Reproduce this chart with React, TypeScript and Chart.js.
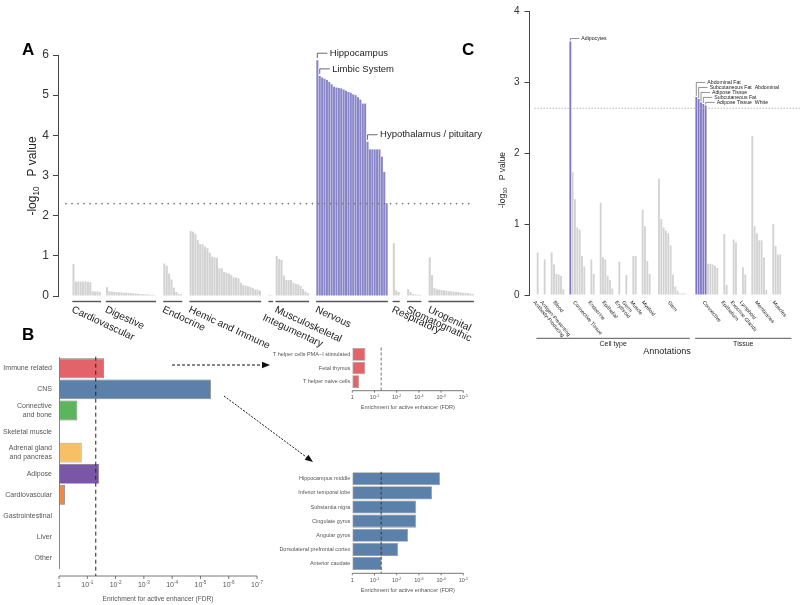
import React, { useEffect, useRef } from 'react';
import { Chart, registerables } from 'chart.js';
Chart.register(...registerables);

const W = 800;
const H = 605;
const FONT = '"Liberation Sans", Arial, Helvetica, sans-serif';
const f = (px: number, w = 'normal') => `${w} ${px}px ${FONT}`;

// ---------------- Panel A data (-log10 P value per annotation) ----------------
const A_GROUPS = ['Cardiovascular', 'Digestive', 'Endocrine', 'Hemic and Immune', 'Integumentary', 'Musculoskeletal', 'Nervous', 'Respiratory', 'Stomatognathic', 'Urogenital'];
const A_CARDIOVASCULAR = [0.8, 0.36, 0.36, 0.36, 0.36, 0.36, 0.35, 0.34, 0.12, 0.11, 0.11, 0.1];
const A_DIGESTIVE = [0.22, 0.12, 0.11, 0.1, 0.1, 0.09, 0.09, 0.08, 0.08, 0.08, 0.07, 0.07, 0.06, 0.06, 0.05, 0.05, 0.04, 0.04, 0.03, 0.03, 0.02];
const A_ENDOCRINE = [0.81, 0.75, 0.56, 0.41, 0.21, 0.1, 0.05, 0.04];
const A_HEMIC_IMMUNE = [1.62, 1.6, 1.55, 1.39, 1.29, 1.29, 1.23, 1.19, 1.08, 0.98, 0.96, 0.95, 0.69, 0.69, 0.6, 0.58, 0.56, 0.52, 0.46, 0.46, 0.44, 0.33, 0.27, 0.26, 0.24, 0.22, 0.2, 0.16, 0.16, 0.13];
const A_INTEGUMENTARY = [0.03, 0.02];
const A_MUSCULOSKELETAL = [1.0, 0.92, 0.9, 0.51, 0.4, 0.4, 0.4, 0.33, 0.3, 0.29, 0.25, 0.17, 0.11, 0.07];
const A_NERVOUS = [5.87, 5.48, 5.44, 5.41, 5.38, 5.33, 5.27, 5.21, 5.19, 5.18, 5.17, 5.14, 5.11, 5.08, 5.06, 5.02, 5.0, 4.95, 4.89, 4.79, 4.79, 3.84, 3.65, 3.65, 3.65, 3.65, 3.65, 3.47, 3.09, 2.31];
const A_RESPIRATORY = [1.31, 0.14, 0.1];
const A_STOMATOGNATHIC = [0.17, 0.1, 0.05, 0.04, 0.03, 0.03];
const A_UROGENITAL = [0.96, 0.52, 0.2, 0.17, 0.16, 0.15, 0.14, 0.13, 0.12, 0.12, 0.11, 0.1, 0.1, 0.09, 0.08, 0.08, 0.07, 0.06, 0.05];
const A_SERIES = [A_CARDIOVASCULAR, A_DIGESTIVE, A_ENDOCRINE, A_HEMIC_IMMUNE, A_INTEGUMENTARY, A_MUSCULOSKELETAL, A_NERVOUS, A_RESPIRATORY, A_STOMATOGNATHIC, A_UROGENITAL];
const A_THRESHOLD = 2.3;
const A_Y_TICKS = [0, 1, 2, 3, 4, 5, 6];
const A_ANNOTATIONS = [
  { group: 6, bar: 0, text: 'Hippocampus' },
  { group: 6, bar: 1, text: 'Limbic System' },
  { group: 6, bar: 21, text: 'Hypothalamus / pituitary' },
];
// layout (empty slots)
const A_LEAD = 6;
const A_GAPS = [2, 3, 3, 3, 1, 3, 2, 3, 3];

// ---------------- Panel B data (-log10 FDR) ----------------
const B_CATEGORIES = ['Immune related', 'CNS', 'Connective\nand bone', 'Skeletal muscle', 'Adrenal gland\nand pancreas', 'Adipose', 'Cardiovascular', 'Gastrointestinal', 'Liver', 'Other'];
const B_NEG_LOG10_FDR = [1.59, 5.37, 0.65, 0, 0.8, 1.42, 0.21, 0, 0, 0];
const B_COLORS = ['#e2646a', '#5b80a9', '#5cb45c', '#999999', '#f7bf66', '#7b56a6', '#f08a40', '#999999', '#999999', '#999999'];
const B_DECADES = [0, 1, 2, 3, 4, 5, 6, 7];
const FDR_CUTOFF = 1.3; // -log10(0.05)

const I1_LABELS = ['T helper cells PMA\u2212I stimulated', 'Fetal thymus', 'T helper naive cells'];
const I1_NEG_LOG10_FDR = [0.59, 0.58, 0.31];
const I2_LABELS = ['Hippocampus middle', 'Inferior temporal lobe', 'Substantia nigra', 'Cingulate gyrus', 'Angular gyrus', 'Dorsolateral prefrontal cortex', 'Anterior caudate'];
const I2_NEG_LOG10_FDR = [3.95, 3.59, 2.88, 2.88, 2.51, 2.07, 1.32];
const INSET_DECADES = [0, 1, 2, 3, 4, 5];

// ---------------- Panel C data ----------------
const C_CELL_GROUPS = ['Antibody-Producing', 'Antigen-Presenting', 'Blood', 'Connective Tissue', 'Endocrine', 'Epithelial', 'Erythroid', 'Germ', 'Muscle', 'Myeloid', 'Stem'];
const C_TISSUE_GROUPS = ['Connective', 'Epithelium', 'Exocrine Glands', 'Lymphoid', 'Membranes', 'Muscles'];
const C_ANTIBODY_PRODUCING = [0.6];
const C_ANTIGEN_PRESENTING = [0.5];
const C_BLOOD = [0.6, 0.43, 0.3, 0.29, 0.27, 0.08];
const C_CONNECTIVE_TISSUE = [3.57, 1.73, 1.35, 0.95, 0.92, 0.55, 0.4];
const C_ENDOCRINE = [0.5, 0.3];
const C_EPITHELIAL = [1.3, 0.53, 0.5, 0.27, 0.21, 0.09];
const C_ERYTHROID = [0.47];
const C_GERM = [0.28];
const C_MUSCLE = [0.55, 0.55];
const C_MYELOID = [1.2, 0.97, 0.48, 0.3];
const C_STEM = [1.64, 1.07, 0.95, 0.91, 0.87, 0.7, 0.29, 0.12, 0.06, 0.02, 0.02, 0.02];
const C_T_CONNECTIVE = [2.79, 2.76, 2.71, 2.69, 2.67, 0.44, 0.44, 0.43, 0.41, 0.38];
const C_T_EPITHELIUM = [0.86, 0.14];
const C_T_EXOCRINE = [0.78, 0.74];
const C_T_LYMPHOID = [0.39, 0.29];
const C_T_MEMBRANES = [2.24, 0.97, 0.87, 0.77, 0.77, 0.53, 0.07];
const C_T_MUSCLES = [1.0, 0.69, 0.57, 0.57];
const C_SERIES = [C_ANTIBODY_PRODUCING, C_ANTIGEN_PRESENTING, C_BLOOD, C_CONNECTIVE_TISSUE, C_ENDOCRINE, C_EPITHELIAL, C_ERYTHROID, C_GERM, C_MUSCLE, C_MYELOID, C_STEM,
  C_T_CONNECTIVE, C_T_EPITHELIUM, C_T_EXOCRINE, C_T_LYMPHOID, C_T_MEMBRANES, C_T_MUSCLES];
const C_THRESHOLD = 2.63;
const C_Y_TICKS = [0, 1, 2, 3, 4];
const C_ANNOTATIONS = [
  { group: 3, bar: 0, text: 'Adipocytes' },
  { group: 11, bar: 0, text: 'Abdominal Fat' },
  { group: 11, bar: 1, text: 'Subcutaneous Fat  Abdominal' },
  { group: 11, bar: 2, text: 'Adipose Tissue' },
  { group: 11, bar: 3, text: 'Subcutaneous Fat' },
  { group: 11, bar: 4, text: 'Adipose Tissue  White' },
];
const C_LEAD = 3;
const C_GAPS = [2, 2, 2, 2, 2, 2, 2, 2, 2, 3, 4, 2, 2, 2, 2, 2];

const PURPLE = '#8985c9';
const PURPLE_C = '#7c76c4';
const GREY = '#d2d2d2';

function buildSlots(series: number[][], gaps: number[], lead: number) {
  const labels: string[] = [];
  const data: (number | null)[] = [];
  const ranges: [number, number][] = [];
  const push = (v: number | null) => { labels.push(String(labels.length)); data.push(v); };
  for (let i = 0; i < lead; i++) push(null);
  series.forEach((vals, gi) => {
    if (gi > 0) for (let k = 0; k < gaps[gi - 1]; k++) push(null);
    const start = data.length;
    vals.forEach((v) => push(v));
    ranges.push([start, data.length - 1]);
  });
  return { labels, data, ranges };
}

function drawLogPTitle(ctx: CanvasRenderingContext2D, cx: number, cy: number, size: number) {
  ctx.save();
  ctx.translate(cx, cy);
  ctx.rotate(-Math.PI / 2);
  ctx.fillStyle = '#222';
  ctx.textBaseline = 'middle';
  ctx.textAlign = 'left';
  ctx.font = f(size);
  const w1 = ctx.measureText('-log').width;
  ctx.font = f(size * 0.68);
  const w2 = ctx.measureText('10').width;
  ctx.font = f(size);
  const w3 = ctx.measureText('   P value').width;
  const x0 = -(w1 + w2 + w3) / 2;
  ctx.font = f(size);
  ctx.fillText('-log', x0, 0);
  ctx.font = f(size * 0.68);
  ctx.fillText('10', x0 + w1, size * 0.32);
  ctx.font = f(size);
  ctx.fillText('   P value', x0 + w1 + w2, 0);
  ctx.restore();
}

function drawDecadeAxis(ctx: CanvasRenderingContext2D, xs: any, decades: number[], y: number, tick: number, size: number, titleY: number, titleSize: number) {
  const x0 = xs.getPixelForValue(decades[0]);
  const x1 = xs.getPixelForValue(decades[decades.length - 1]);
  ctx.save();
  ctx.strokeStyle = '#555';
  ctx.lineWidth = 0.8;
  ctx.beginPath();
  ctx.moveTo(x0, y);
  ctx.lineTo(x1, y);
  decades.forEach((d) => {
    const x = xs.getPixelForValue(d);
    ctx.moveTo(x, y);
    ctx.lineTo(x, y + tick);
  });
  ctx.stroke();
  ctx.fillStyle = '#555';
  ctx.textBaseline = 'alphabetic';
  ctx.textAlign = 'left';
  const ly = y + tick + 2 + size * 0.85;
  decades.forEach((d) => {
    const x = xs.getPixelForValue(d);
    if (d === 0) {
      ctx.font = f(size);
      const w = ctx.measureText('1').width;
      ctx.fillText('1', x - w / 2, ly);
    } else {
      ctx.font = f(size);
      const wb = ctx.measureText('10').width;
      ctx.font = f(size * 0.65);
      const ws = ctx.measureText('-' + d).width;
      const sx = x - (wb + ws) / 2;
      ctx.font = f(size);
      ctx.fillText('10', sx, ly);
      ctx.font = f(size * 0.65);
      ctx.fillText('-' + d, sx + wb, ly - size * 0.45);
    }
  });
  ctx.font = f(titleSize);
  ctx.textAlign = 'center';
  ctx.textBaseline = 'middle';
  ctx.fillText('Enrichment for active enhancer (FDR)', (x0 + x1) / 2, titleY);
  ctx.restore();
}

function drawArrow(ctx: CanvasRenderingContext2D, x0: number, y0: number, x1: number, y1: number, dash: number[]) {
  const ang = Math.atan2(y1 - y0, x1 - x0);
  const hl = 8;
  const hw = 3.2;
  const c = Math.cos(ang);
  const s = Math.sin(ang);
  const bx = x1 - hl * c;
  const by = y1 - hl * s;
  ctx.save();
  ctx.strokeStyle = '#111';
  ctx.fillStyle = '#111';
  ctx.lineWidth = 1;
  ctx.setLineDash(dash);
  ctx.beginPath();
  ctx.moveTo(x0, y0);
  ctx.lineTo(bx, by);
  ctx.stroke();
  ctx.setLineDash([]);
  ctx.beginPath();
  ctx.moveTo(x1, y1);
  ctx.lineTo(bx + hw * s, by - hw * c);
  ctx.lineTo(bx - hw * s, by + hw * c);
  ctx.closePath();
  ctx.fill();
  ctx.restore();
}

function panelLetter(ctx: CanvasRenderingContext2D, t: string, x: number, y: number) {
  ctx.save();
  ctx.fillStyle = '#000';
  ctx.font = f(17, 'bold');
  ctx.textBaseline = 'alphabetic';
  ctx.textAlign = 'left';
  ctx.fillText(t, x, y);
  ctx.restore();
}

const baseOpts = {
  responsive: false,
  animation: false as const,
  devicePixelRatio: 1,
  events: [] as any[],
  plugins: { legend: { display: false }, tooltip: { enabled: false } },
};

function makeA(canvas: HTMLCanvasElement) {
  const a = buildSlots(A_SERIES, A_GAPS, A_LEAD);
  const plugin = {
    id: 'panelA',
    afterDraw(chart: any) {
      const { ctx, chartArea } = chart;
      const xs = chart.scales.x;
      const ys = chart.scales.y;
      const slot = xs.getPixelForValue(1) - xs.getPixelForValue(0);
      const y0 = ys.getPixelForValue(0);
      ctx.save();
      // threshold
      ctx.setLineDash([0.01, 6]);
      ctx.lineCap = 'round';
      ctx.lineWidth = 1.7;
      ctx.strokeStyle = '#777';
      const ty = ys.getPixelForValue(A_THRESHOLD);
      ctx.beginPath();
      ctx.moveTo(chartArea.left + 8, ty);
      ctx.lineTo(chartArea.right - 3, ty);
      ctx.stroke();
      ctx.setLineDash([]);
      ctx.lineCap = 'butt';
      // group underlines and labels
      a.ranges.forEach(([s0, s1], gi) => {
        const x0 = xs.getPixelForValue(s0) - slot / 2;
        const x1 = xs.getPixelForValue(s1) + slot / 2;
        ctx.strokeStyle = '#555';
        ctx.lineWidth = 1.4;
        ctx.beginPath();
        ctx.moveTo(x0, y0 + 5.5);
        ctx.lineTo(x1, y0 + 5.5);
        ctx.stroke();
        const shift = A_GROUPS[gi] === 'Integumentary' ? [-5, 8] : [0, 0];
        ctx.save();
        ctx.translate(x0 + 2 + shift[0], y0 + 8.5 + shift[1]);
        ctx.rotate((25 * Math.PI) / 180);
        ctx.fillStyle = '#222';
        ctx.font = f(10.2);
        ctx.textBaseline = 'top';
        ctx.textAlign = 'left';
        ctx.fillText(A_GROUPS[gi], 0, 0);
        ctx.restore();
      });
      // annotations
      const meta = chart.getDatasetMeta(0);
      A_ANNOTATIONS.forEach((an) => {
        const idx = a.ranges[an.group][0] + an.bar;
        const el = meta.data[idx];
        const bx = el.x;
        const top = el.y;
        const ly = top - 7;
        ctx.strokeStyle = '#444';
        ctx.lineWidth = 0.8;
        ctx.beginPath();
        ctx.moveTo(bx, top - 2);
        ctx.lineTo(bx, ly);
        ctx.lineTo(bx + 10, ly);
        ctx.stroke();
        ctx.fillStyle = '#222';
        ctx.font = f(9.5);
        ctx.textBaseline = 'middle';
        ctx.textAlign = 'left';
        ctx.fillText(an.text, bx + 12.5, ly);
      });
      ctx.restore();
      drawLogPTitle(ctx, 33, 176, 12);
      panelLetter(ctx, 'A', 22, 55);
    },
  };
  return new Chart(canvas, {
    type: 'bar',
    data: {
      labels: a.labels,
      datasets: [{
        data: a.data,
        backgroundColor: a.data.map((v) => (v != null && v > A_THRESHOLD ? PURPLE : GREY)),
        barPercentage: 0.86,
        categoryPercentage: 1,
        borderWidth: 0,
      }],
    },
    options: {
      ...baseOpts,
      layout: { padding: { left: 0, top: 55, right: W - 473.9, bottom: H - 296 } },
      scales: {
        x: { display: false },
        y: {
          min: 0,
          max: 6,
          afterBuildTicks: (s: any) => { s.ticks = A_Y_TICKS.map((v) => ({ value: v })); },
          afterFit: (s: any) => { s.width = 58; },
          ticks: { font: { family: FONT, size: 12 }, color: '#333', padding: 4 },
          grid: { drawOnChartArea: false, tickLength: 5, color: '#444' },
          border: { color: '#444', width: 1 },
        },
      },
    } as any,
    plugins: [plugin],
  });
}

function makeC(canvas: HTMLCanvasElement) {
  const c = buildSlots(C_SERIES, C_GAPS, C_LEAD);
  const nCell = C_CELL_GROUPS.length;
  const groupNames = [...C_CELL_GROUPS, ...C_TISSUE_GROUPS];
  const plugin = {
    id: 'panelC',
    afterDraw(chart: any) {
      const { ctx, chartArea } = chart;
      const xs = chart.scales.x;
      const ys = chart.scales.y;
      const slot = xs.getPixelForValue(1) - xs.getPixelForValue(0);
      const y0 = ys.getPixelForValue(0);
      ctx.save();
      // threshold
      ctx.setLineDash([1.4, 1.6]);
      ctx.strokeStyle = '#b5b5b5';
      ctx.lineWidth = 1;
      const ty = ys.getPixelForValue(C_THRESHOLD);
      ctx.beginPath();
      ctx.moveTo(chartArea.left + 5, ty);
      ctx.lineTo(W, ty);
      ctx.stroke();
      ctx.setLineDash([]);
      // group labels
      c.ranges.forEach(([s0, s1], gi) => {
        const cx = (xs.getPixelForValue(s0) + xs.getPixelForValue(s1)) / 2;
        ctx.save();
        ctx.translate(cx - 1.5, y0 + 5);
        ctx.rotate((50 * Math.PI) / 180);
        ctx.fillStyle = '#222';
        ctx.font = f(5.2);
        ctx.textBaseline = 'top';
        ctx.textAlign = 'left';
        ctx.fillText(groupNames[gi], 0, 0);
        ctx.restore();
      });
      // section brackets
      const by = 338.3;
      const cellX0 = xs.getPixelForValue(c.ranges[0][0]) - slot / 2;
      const cellX1 = xs.getPixelForValue(c.ranges[nCell - 1][1]) + slot / 2 + 4;
      const tisX0 = xs.getPixelForValue(c.ranges[nCell][0]) - slot / 2;
      const tisX1 = xs.getPixelForValue(c.ranges[c.ranges.length - 1][1]) + slot / 2 + 10;
      ctx.strokeStyle = '#555';
      ctx.lineWidth = 1;
      ctx.beginPath();
      ctx.moveTo(cellX0, by);
      ctx.lineTo(cellX1, by);
      ctx.moveTo(tisX0, by);
      ctx.lineTo(tisX1, by);
      ctx.stroke();
      ctx.fillStyle = '#222';
      ctx.font = f(7);
      ctx.textAlign = 'center';
      ctx.textBaseline = 'middle';
      ctx.fillText('Cell type', (cellX0 + cellX1) / 2, by + 5.5);
      ctx.fillText('Tissue', (tisX0 + tisX1) / 2, by + 5.5);
      ctx.font = f(9);
      ctx.fillText('Annotations', (cellX0 + tisX1) / 2 + 3, by + 13);
      // annotations with stacked labels
      const meta = chart.getDatasetMeta(0);
      const items = C_ANNOTATIONS.map((an) => {
        const el = meta.data[c.ranges[an.group][0] + an.bar];
        return { ...an, bx: el.x, top: el.y, ly: el.y - 3 };
      });
      for (let i = items.length - 2; i >= 0; i--) {
        if (items[i].group === items[i + 1].group) items[i].ly = Math.min(items[i].ly, items[i + 1].ly - 5);
      }
      items.forEach((it) => {
        ctx.strokeStyle = '#444';
        ctx.lineWidth = 0.6;
        ctx.beginPath();
        ctx.moveTo(it.bx, it.top - 1);
        ctx.lineTo(it.bx, it.ly);
        ctx.lineTo(it.bx + 9, it.ly);
        ctx.stroke();
        ctx.fillStyle = '#222';
        ctx.font = f(5.2);
        ctx.textAlign = 'left';
        ctx.textBaseline = 'middle';
        ctx.fillText(it.text, it.bx + 11, it.ly);
      });
      ctx.restore();
      drawLogPTitle(ctx, 503, 180, 8.5);
      panelLetter(ctx, 'C', 462, 55);
    },
  };
  return new Chart(canvas, {
    type: 'bar',
    data: {
      labels: c.labels,
      datasets: [{
        data: c.data,
        backgroundColor: c.data.map((v) => (v != null && v > C_THRESHOLD ? PURPLE_C : GREY)),
        barPercentage: 0.78,
        categoryPercentage: 1,
        borderWidth: 0,
      }],
    },
    options: {
      ...baseOpts,
      layout: { padding: { left: 480, top: 5, right: W - (529.5 + 108 * 2.333), bottom: H - 295 } },
      scales: {
        x: { display: false },
        y: {
          min: 0,
          max: 4,
          afterBuildTicks: (s: any) => { s.ticks = C_Y_TICKS.map((v) => ({ value: v })); },
          afterFit: (s: any) => { s.width = 49.5; },
          ticks: { font: { family: FONT, size: 10 }, color: '#333', padding: 5 },
          grid: { drawOnChartArea: false, tickLength: 5, color: '#444' },
          border: { color: '#444', width: 1 },
        },
      },
    } as any,
    plugins: [plugin],
  });
}

function makeB(canvas: HTMLCanvasElement) {
  const plugin = {
    id: 'panelB',
    afterDraw(chart: any) {
      const { ctx, chartArea } = chart;
      const xs = chart.scales.x;
      const axisY = chartArea.bottom + 7.2;
      ctx.save();
      const cx = xs.getPixelForValue(FDR_CUTOFF);
      ctx.strokeStyle = '#222';
      ctx.lineWidth = 1;
      ctx.setLineDash([4, 3]);
      ctx.beginPath();
      ctx.moveTo(cx, chartArea.top - 1);
      ctx.lineTo(cx, axisY);
      ctx.stroke();
      ctx.restore();
      drawDecadeAxis(ctx, xs, B_DECADES, axisY, 3, 7, 599, 6.6);
      drawArrow(ctx, 172, 365, 270, 365, [3, 2]);
      drawArrow(ctx, 224, 396, 313, 462, [2, 1.4]);
      panelLetter(ctx, 'B', 22, 340);
    },
  };
  return new Chart(canvas, {
    type: 'bar',
    data: {
      labels: B_CATEGORIES.map((s) => s.split('\n')),
      datasets: [{
        data: B_NEG_LOG10_FDR,
        backgroundColor: B_COLORS,
        borderColor: '#7a7a7a',
        borderWidth: (ctx: any) => (ctx.raw > 0 ? 0.8 : 0),
        borderSkipped: false,
        barPercentage: 0.94,
        categoryPercentage: 1,
      }],
    },
    options: {
      ...baseOpts,
      indexAxis: 'y',
      layout: { padding: { left: 0, top: 357.7, right: W - 257, bottom: H - 568.8 } },
      scales: {
        x: { display: false, min: 0, max: 7 },
        y: {
          afterFit: (s: any) => { s.width = 59; },
          ticks: { font: { family: FONT, size: 7 }, color: '#555', padding: 7 },
          grid: { display: false, drawTicks: false, tickLength: 0 },
          border: { display: true, color: '#888', width: 1 },
        },
      },
    } as any,
    plugins: [plugin],
  });
}

function makeInset(canvas: HTMLCanvasElement, labels: string[], values: number[], color: string, top: number, bottom: number, axisGap: number, titleY: number, dashColor: string) {
  const plugin = {
    id: 'inset',
    afterDraw(chart: any) {
      const { ctx, chartArea } = chart;
      const xs = chart.scales.x;
      const axisY = chartArea.bottom + axisGap;
      ctx.save();
      const cx = xs.getPixelForValue(FDR_CUTOFF);
      ctx.strokeStyle = dashColor;
      ctx.lineWidth = 0.9;
      ctx.setLineDash([3, 2]);
      ctx.beginPath();
      ctx.moveTo(cx, chartArea.top);
      ctx.lineTo(cx, axisY);
      ctx.stroke();
      ctx.restore();
      drawDecadeAxis(ctx, xs, INSET_DECADES, axisY, 2, 5.5, titleY, 5.6);
    },
  };
  return new Chart(canvas, {
    type: 'bar',
    data: {
      labels,
      datasets: [{
        data: values,
        backgroundColor: color,
        borderColor: '#9a9a9a',
        borderWidth: 0.8,
        borderSkipped: false,
        barPercentage: 0.93,
        categoryPercentage: 1,
      }],
    },
    options: {
      ...baseOpts,
      indexAxis: 'y',
      layout: { padding: { left: 200, top, right: W - 463.3, bottom: H - bottom } },
      scales: {
        x: { display: false, min: 0, max: 5 },
        y: {
          afterFit: (s: any) => { s.width = 152.3; },
          ticks: { font: { family: FONT, size: 5.5 }, color: '#555', padding: 2 },
          grid: { display: false, drawTicks: false, tickLength: 0 },
          border: { display: false },
        },
      },
    } as any,
    plugins: [plugin],
  });
}

export default function App() {
  const r0 = useRef<HTMLCanvasElement>(null);
  const r1 = useRef<HTMLCanvasElement>(null);
  const r2 = useRef<HTMLCanvasElement>(null);
  const r3 = useRef<HTMLCanvasElement>(null);
  const r4 = useRef<HTMLCanvasElement>(null);
  const refs = [r0, r1, r2, r3, r4];
  useEffect(() => {
    const charts = [
      makeA(r0.current!),
      makeC(r1.current!),
      makeB(r2.current!),
      makeInset(r3.current!, I1_LABELS, I1_NEG_LOG10_FDR, '#e2646a', 347.5, 388.5, 2.2, 407.3, '#666'),
      makeInset(r4.current!, I2_LABELS, I2_NEG_LOG10_FDR, '#5b80a9', 471.7, 570.5, 2.8, 590.7, '#333'),
    ];
    return () => charts.forEach((c) => c.destroy());
  }, []);
  return (
    <div style={{ position: 'absolute', left: 0, top: 0, width: W, height: H, background: '#fff', overflow: 'hidden' }}>
      {refs.map((r, i) => (
        <canvas key={i} ref={r} width={W} height={H} style={{ position: 'absolute', left: 0, top: 0, width: W, height: H }} />
      ))}
    </div>
  );
}
